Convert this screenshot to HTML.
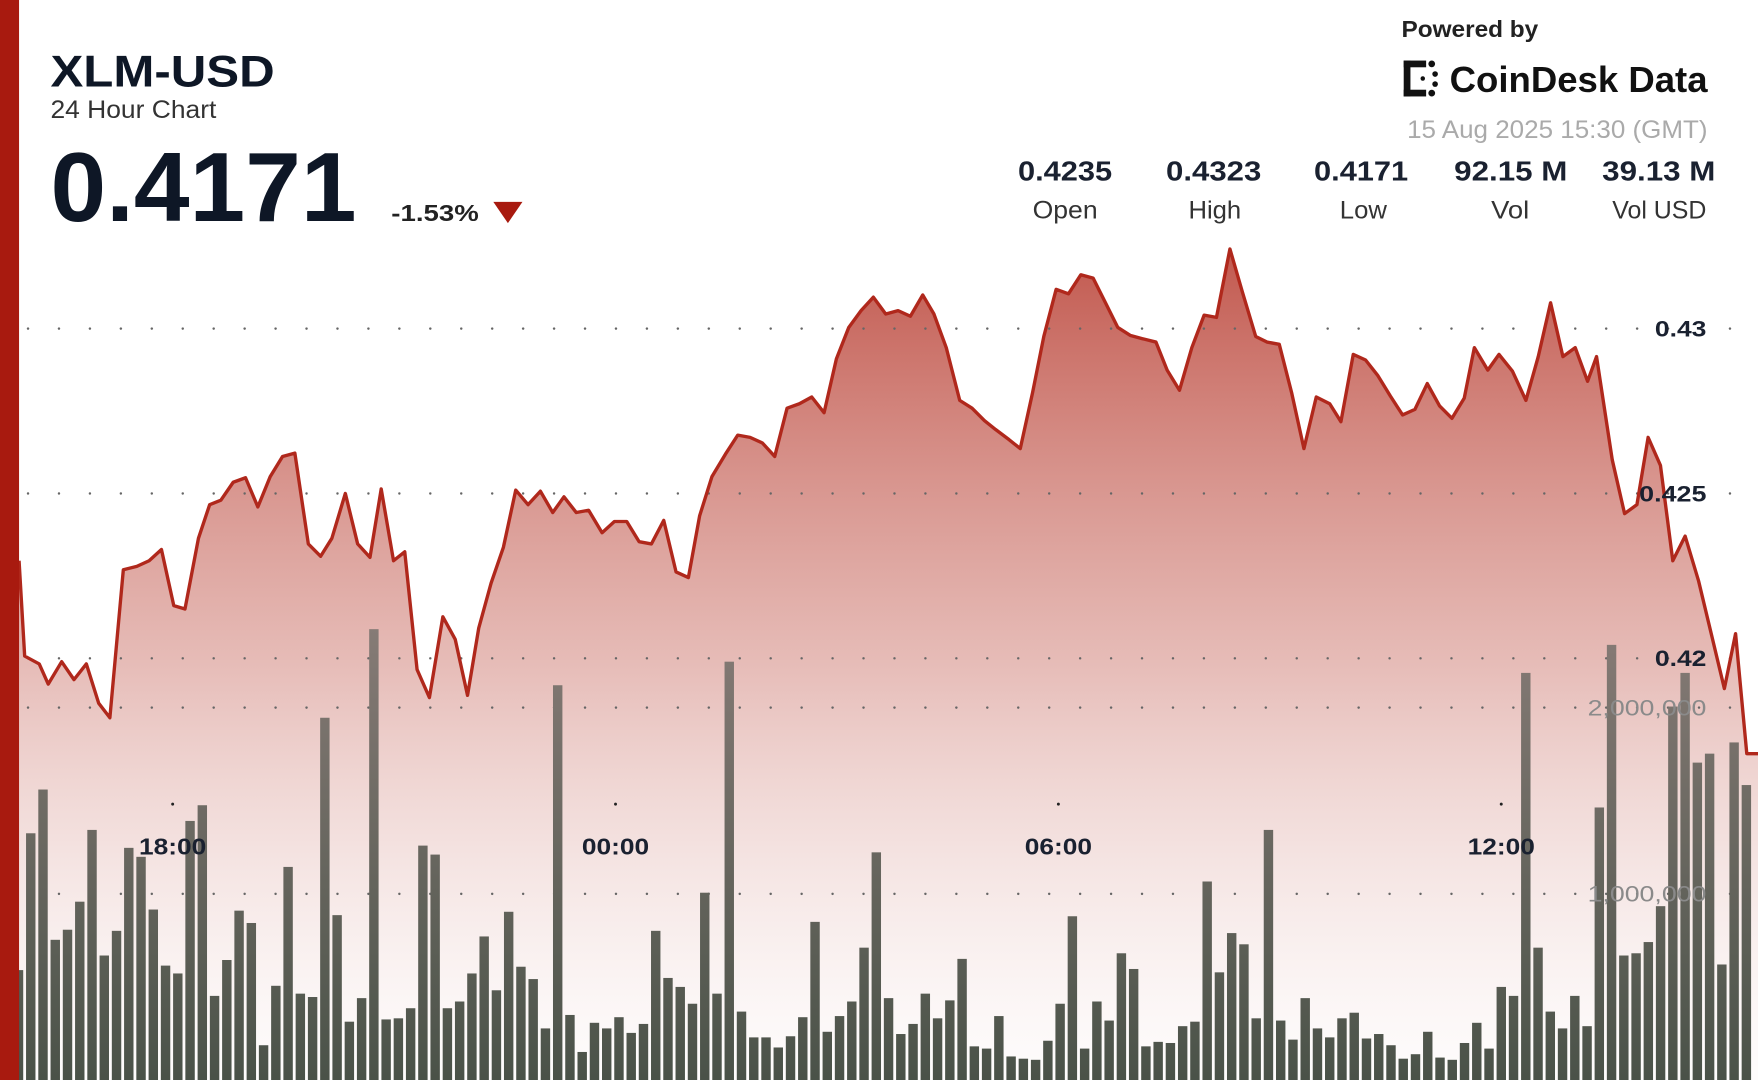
<!DOCTYPE html>
<html><head><meta charset="utf-8">
<style>html,body{margin:0;padding:0;background:#fff;overflow:hidden}svg{display:block}text{font-family:"Liberation Sans",sans-serif}</style>
</head><body>
<svg id="s" width="1758" height="1080" viewBox="0 0 1568 963" preserveAspectRatio="none" xmlns="http://www.w3.org/2000/svg">
<defs>
<linearGradient id="fg" gradientUnits="userSpaceOnUse" x1="0" y1="220" x2="0" y2="963">
<stop offset="0" stop-color="#b73a2e" stop-opacity="0.85"/>
<stop offset="0.5" stop-color="#c86a60" stop-opacity="0.45"/>
<stop offset="1" stop-color="#e8c8c4" stop-opacity="0.05"/>
</linearGradient>
<linearGradient id="bg" gradientUnits="userSpaceOnUse" x1="0" y1="560" x2="0" y2="963">
<stop offset="0" stop-color="#867b76"/>
<stop offset="1" stop-color="#4a5248"/>
</linearGradient>
</defs>
<rect x="0" y="0" width="1568" height="963" fill="#fff"/>
<g id="fill"></g>
<g id="grid"></g>
<g id="bars"></g>
<g id="line"></g>
<rect x="0" y="0" width="17" height="963" fill="#a81a0f"/>
<text x="45" y="77" font-size="40" font-weight="bold" fill="#0e1726" textLength="200" lengthAdjust="spacingAndGlyphs">XLM-USD</text>
<text x="45" y="105" font-size="22" fill="#333" textLength="148" lengthAdjust="spacingAndGlyphs">24 Hour Chart</text>
<text x="45" y="197" font-size="88" font-weight="bold" fill="#0e1726" textLength="273" lengthAdjust="spacingAndGlyphs">0.4171</text>
<text x="349" y="197" font-size="21" font-weight="bold" fill="#222" textLength="78" lengthAdjust="spacingAndGlyphs">-1.53%</text>
<polygon points="440,180 466,180 453,199" fill="#a81a0f"/>
<text x="1250" y="33" font-size="21" font-weight="bold" fill="#222" textLength="122" lengthAdjust="spacingAndGlyphs">Powered by</text>
<g fill="#111"><rect x="1252" y="54" width="6" height="32"/><rect x="1252" y="54" width="20" height="6"/><rect x="1252" y="80" width="20" height="6"/><circle cx="1277" cy="57" r="3"/><circle cx="1277" cy="83" r="3"/><circle cx="1280" cy="66" r="2.5"/><circle cx="1280" cy="75" r="2.5"/><circle cx="1269" cy="70" r="2"/></g>
<text x="1293" y="82" font-size="32" font-weight="bold" fill="#111" textLength="230" lengthAdjust="spacingAndGlyphs">CoinDesk Data</text>
<text x="1523" y="123" font-size="22" fill="#aaa" text-anchor="end" textLength="268" lengthAdjust="spacingAndGlyphs">15 Aug 2025 15:30 (GMT)</text>
<g font-size="25" font-weight="bold" fill="#1a2130">
<text x="908" y="161" textLength="84" lengthAdjust="spacingAndGlyphs">0.4235</text><text x="1040" y="161" textLength="85" lengthAdjust="spacingAndGlyphs">0.4323</text><text x="1172" y="161" textLength="84" lengthAdjust="spacingAndGlyphs">0.4171</text><text x="1297" y="161" textLength="101" lengthAdjust="spacingAndGlyphs">92.15 M</text><text x="1429" y="161" textLength="101" lengthAdjust="spacingAndGlyphs">39.13 M</text></g>
<g font-size="22" fill="#333">
<text x="921" y="195" textLength="58" lengthAdjust="spacingAndGlyphs">Open</text><text x="1060" y="195" textLength="47" lengthAdjust="spacingAndGlyphs">High</text><text x="1195" y="195" textLength="42" lengthAdjust="spacingAndGlyphs">Low</text><text x="1330" y="195" textLength="34" lengthAdjust="spacingAndGlyphs">Vol</text><text x="1438" y="195" textLength="84" lengthAdjust="spacingAndGlyphs">Vol USD</text></g>
<g id="labels"></g>
</svg>
<script>
var NS="http://www.w3.org/2000/svg";
function el(p,t,a,txt){var e=document.createElementNS(NS,t);for(var k in a)e.setAttribute(k,a[k]);if(txt)e.textContent=txt;document.getElementById(p).appendChild(e);return e;}
var vols=[865,743,704,838,829,804,740,852,830,756,764,811,861,868,732,718,888,856,812,823,932,879,773,886,889,640,816,911,890,561,909,908,899,754,762,899,
893,868,835,883,813,862,873,917,611,905,938,912,917,907,921,913,830,872,880,895,796,886,590,902,925,925,934,924,907,822,920,906,893,845,760,890,922,913,886,908,892,855,933,935,906,942,944,945,928,895,817,935,893,910,850,864,933,929,930,915,911,786,867,832,842,908,740,910,927,890,917,925,908,903,926,922,932,944,940,920,943,945,930,912,935,880,888,600,845,902,917,888,915,720,575,852,850,840,808,630,600,680,672,860,662,700];
for(var i=0;i<vols.length;i++){var cx=16.5+10.93*i;el("bars","rect",{x:cx-4.2,y:vols[i],width:8.4,height:963-vols[i],fill:"url(#bg)"});}
var pts=[[17,500],[22,585],[35,592],[43,610],[55,590],[66,606],[77,592],[88,627],[98,640],[110,508],[122,505],[133,500],[144,490],[155,540],[165,543],[177,480],[187,450],[197,446],[208,430],[219,426],[230,452],[241,425],[252,407],[263,404],[275,485],[286,496],[296,480],[308,440],[319,485],[330,497],[340,436],[351,500],[361,492],[372,597],[383,622],[395,550],[406,570],[417,620],[427,560],[438,520],[449,488],[460,437],[471,450],[482,438],[493,457],[503,443],[514,457],[525,455],[537,475],[548,465],[559,465],[570,483],[581,485],[592,464],[603,510],[614,515],[624,460],[635,425],[647,405],[658,388],[669,390],[680,395],[691,407],[702,364],[713,360],[724,354],[735,368],[746,320],[757,292],[768,277],[779,265],[790,280],[801,277],[812,282],[823,263],[833,280],[844,310],[856,357],[867,364],[878,375],[888,383],[900,392],[910,400],[921,350],[931,300],[942,258],[953,262],[964,245],[975,248],[986,270],[997,292],[1008,299],[1019,302],[1031,305],[1041,330],[1052,348],[1063,310],[1074,281],[1085,283],[1097,222],[1108,260],[1120,300],[1130,305],[1141,307],[1152,350],[1163,400],[1174,354],[1186,360],[1196,376],[1207,316],[1218,321],[1229,335],[1240,353],[1251,370],[1262,365],[1273,342],[1284,362],[1295,373],[1306,355],[1315,310],[1327,330],[1337,316],[1349,331],[1361,357],[1372,318],[1383,270],[1394,318],[1405,310],[1416,340],[1424,318],[1438,410],[1449,458],[1460,450],[1470,390],[1481,415],[1492,500],[1503,478],[1515,518],[1527,568],[1538,614],[1548,565],[1558,672],[1568,672]];
var d=pts.map(function(p,i){return (i?"L":"M")+p[0]+","+p[1];}).join("");
el("fill","path",{d:d+"L1568,963L17,963Z",fill:"url(#fg)"});
el("line","path",{d:d,fill:"none",stroke:"#b0281c","stroke-width":"3","stroke-linejoin":"round"});
[293,440,587,631,797].forEach(function(y){for(var x=25;x<1560;x+=27.6)el("grid","circle",{cx:x,cy:y,r:1.1,fill:"#666"});});
[154,549,944,1339].forEach(function(x){el("grid","circle",{cx:x,cy:717,r:1.3,fill:"#222"});});
[["0.43",293,46],["0.425",440,60],["0.42",587,46]].forEach(function(l){el("labels","text",{x:1522-l[2],y:l[1]+7,"font-size":"20","font-weight":"bold",fill:"#1a2130",textLength:l[2],lengthAdjust:"spacingAndGlyphs"},l[0]);});
[["2,000,000",631],["1,000,000",797]].forEach(function(l){el("labels","text",{x:1416,y:l[1]+7,"font-size":"20",fill:"#8a8a8a",textLength:106,lengthAdjust:"spacingAndGlyphs"},l[0]);});
[["18:00",154],["00:00",549],["06:00",944],["12:00",1339]].forEach(function(l){el("labels","text",{x:l[1]-30,y:762,"font-size":"21","font-weight":"bold",fill:"#1a2130",textLength:60,lengthAdjust:"spacingAndGlyphs"},l[0]);});
</script>
</body></html>
